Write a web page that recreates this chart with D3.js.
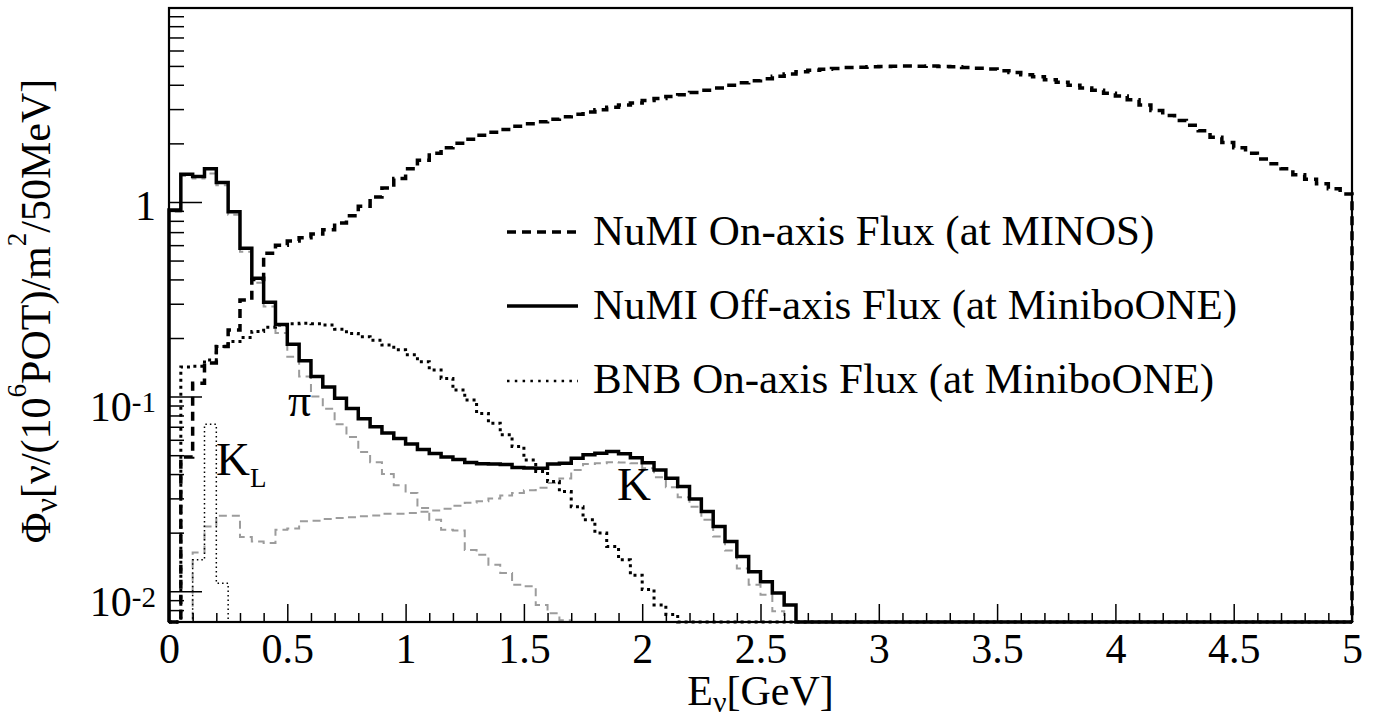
<!DOCTYPE html>
<html>
<head>
<meta charset="utf-8">
<script src="https://cdn.jsdelivr.net/npm/d3@7"></script>
<style>
  html, body { margin: 0; padding: 0; background: #fff; }
  svg { display: block; }
  text { font-family: "Liberation Serif", "Times New Roman", serif; fill: #000; }
</style>
</head>
<body>
<svg id="chart" width="1375" height="717"></svg>
<script>
// Neutrino flux histograms, 50 MeV bins from 0 to 5 GeV
const binWidth = 0.05;
const binEdges = d3.range(100).map(i => +(i * binWidth).toFixed(2));

// NuMI on-axis flux at MINOS
const numiOnAxis = [
  0, 0.049, 0.117, 0.149, 0.181, 0.22, 0.314, 0.40, 0.545, 0.60,
  0.63, 0.655, 0.685, 0.72, 0.78, 0.85, 0.95, 1.06, 1.18, 1.32,
  1.48, 1.64, 1.78, 1.9, 2.0, 2.1, 2.2, 2.28, 2.36, 2.45,
  2.52, 2.58, 2.66, 2.74, 2.82, 2.9, 2.98, 3.07, 3.15, 3.22,
  3.32, 3.4, 3.48, 3.55, 3.65, 3.75, 3.85, 3.98, 4.1, 4.2,
  4.3, 4.42, 4.55, 4.66, 4.75, 4.8, 4.85, 4.9, 4.92, 4.95,
  4.96, 4.98, 5.0, 4.98, 5.0, 4.97, 4.95, 4.9, 4.86, 4.82,
  4.72, 4.62, 4.5, 4.4, 4.25, 4.12, 3.98, 3.85, 3.75, 3.62,
  3.5, 3.35, 3.15, 2.95, 2.78, 2.62, 2.48, 2.32, 2.15, 2.02,
  1.9, 1.78, 1.66, 1.57, 1.48, 1.38, 1.31, 1.24, 1.17, 1.1
];

// NuMI off-axis flux at MiniBooNE (total)
const numiOffAxis = [
  0.91, 1.39, 1.35, 1.48, 1.26, 0.89, 0.578, 0.405, 0.305, 0.235,
  0.186, 0.153, 0.127, 0.112, 0.098, 0.087, 0.077, 0.07, 0.065, 0.061,
  0.057, 0.0535, 0.051, 0.049, 0.0475, 0.0458, 0.0452, 0.045, 0.0448, 0.0432,
  0.043, 0.0428, 0.045, 0.0455, 0.0482, 0.0502, 0.0512, 0.0522, 0.0508, 0.0485,
  0.0457, 0.042, 0.0381, 0.0345, 0.0298, 0.0257, 0.0215, 0.018, 0.0151, 0.0126,
  0.0112, 0.0098, 0.0085, 0, 0, 0, 0, 0, 0, 0,
  0, 0, 0, 0, 0, 0, 0, 0, 0, 0,
  0, 0, 0, 0, 0, 0, 0, 0, 0, 0,
  0, 0, 0, 0, 0, 0, 0, 0, 0, 0,
  0, 0, 0, 0, 0, 0, 0, 0, 0, 0
];

// Pion-parent component of the off-axis flux
const offAxisPion = [
  0.89, 1.36, 1.32, 1.40, 1.22, 0.86, 0.555, 0.385, 0.29, 0.212,
  0.16, 0.127, 0.10, 0.0865, 0.072, 0.062, 0.052, 0.046, 0.040, 0.035,
  0.032, 0.0268, 0.0233, 0.0207, 0.0205, 0.0163, 0.0154, 0.0137, 0.0124, 0.0108,
  0.0106, 0.0085, 0.0077, 0.0071, 0.006, 0.005, 0, 0, 0, 0,
  0, 0, 0, 0, 0, 0, 0, 0, 0, 0,
  0, 0, 0, 0, 0, 0, 0, 0, 0, 0,
  0, 0, 0, 0, 0, 0, 0, 0, 0, 0,
  0, 0, 0, 0, 0, 0, 0, 0, 0, 0,
  0, 0, 0, 0, 0, 0, 0, 0, 0, 0,
  0, 0, 0, 0, 0, 0, 0, 0, 0, 0
];

// Charged-kaon-parent component of the off-axis flux
const offAxisKaon = [
  0, 0, 0.0158, 0.0215, 0.0244, 0.0244, 0.019, 0.018, 0.0177, 0.0207,
  0.021, 0.0229, 0.023, 0.0235, 0.0238, 0.024, 0.0243, 0.0245, 0.025, 0.025,
  0.0252, 0.0256, 0.026, 0.0265, 0.0275, 0.0285, 0.029, 0.030, 0.031, 0.032,
  0.033, 0.034, 0.036, 0.038, 0.042, 0.045, 0.0455, 0.046, 0.0458, 0.0455,
  0.0429, 0.0385, 0.0342, 0.0304, 0.0272, 0.0233, 0.0191, 0.0162, 0.0131, 0.0108,
  0.0096, 0.0079, 0, 0, 0, 0, 0, 0, 0, 0,
  0, 0, 0, 0, 0, 0, 0, 0, 0, 0,
  0, 0, 0, 0, 0, 0, 0, 0, 0, 0,
  0, 0, 0, 0, 0, 0, 0, 0, 0, 0,
  0, 0, 0, 0, 0, 0, 0, 0, 0, 0
];

// K-long-parent component of the off-axis flux (only first bins are non-zero)
const offAxisKLong = [0, 0, 0.0145, 0.072, 0.011].concat(new Array(95).fill(0));

// BNB on-axis flux at MiniBooNE
const bnbOnAxis = [
  0, 0.142, 0.143, 0.154, 0.181, 0.192, 0.201, 0.216, 0.227, 0.233,
  0.237, 0.238, 0.237, 0.233, 0.222, 0.211, 0.203, 0.195, 0.184, 0.174,
  0.164, 0.151, 0.137, 0.124, 0.108, 0.096, 0.082, 0.073, 0.0636, 0.0554,
  0.0473, 0.0412, 0.0366, 0.0325, 0.0272, 0.0233, 0.0199, 0.017, 0.0145, 0.0121,
  0.0102, 0.0085, 0.0076, 0.005, 0, 0, 0, 0, 0, 0,
  0, 0, 0, 0, 0, 0, 0, 0, 0, 0,
  0, 0, 0, 0, 0, 0, 0, 0, 0, 0,
  0, 0, 0, 0, 0, 0, 0, 0, 0, 0,
  0, 0, 0, 0, 0, 0, 0, 0, 0, 0,
  0, 0, 0, 0, 0, 0, 0, 0, 0, 0
];

const xMajorTicks = [0, 0.5, 1, 1.5, 2, 2.5, 3, 3.5, 4, 4.5, 5];
const xTickLabels = ["0", "0.5", "1", "1.5", "2", "2.5", "3", "3.5", "4", "4.5", "5"];
const yMajorTicks = [0.01, 0.1, 1];
const yTickBase = ["10", "10", "1"];
const yTickExp = ["-2", "-1", ""];
const legendLabels = [
  "NuMI On-axis Flux (at MINOS)",
  "NuMI Off-axis Flux (at MiniboONE)",
  "BNB On-axis Flux (at MiniboONE)"
];

const svg = d3.select("#chart");
const frameL = 169, frameR = 1352, frameT = 8, frameB = 622;
const yMin = 0.00695, yMax = 9.92;

const x = d3.scaleLinear().domain([0, 5]).range([frameL, frameR]);
const y = d3.scaleLog().domain([yMin, yMax]).range([frameB, frameT]).clamp(true);

svg.append("defs").append("clipPath").attr("id", "plotClip")
  .append("rect").attr("x", frameL - 3).attr("y", frameT)
  .attr("width", frameR - frameL + 6).attr("height", frameB - frameT + 3);

// Histogram outline as a step path
function stepPoints(vals) {
  const pts = [[binEdges[0], yMin]];
  vals.forEach((v, i) => {
    const lo = binEdges[i], hi = +(lo + binWidth).toFixed(2);
    const vv = v > 0 ? v : yMin;
    pts.push([lo, vv], [hi, vv]);
  });
  pts.push([5, yMin]);
  return pts;
}
const line = d3.line().x(d => x(d[0])).y(d => y(d[1]));

const plot = svg.append("g").attr("clip-path", "url(#plotClip)");

const series = [
  { vals: offAxisKaon, color: "#9c9c9c", width: 2, dash: "8,5" },
  { vals: offAxisPion, color: "#9c9c9c", width: 2, dash: "8,5" },
  { vals: offAxisKLong, color: "#000", width: 1.5, dash: "1.5,3" },
  { vals: bnbOnAxis, color: "#000", width: 3, dash: "3,4" },
  { vals: numiOnAxis, color: "#000", width: 3.5, dash: "9,6" },
  { vals: numiOffAxis, color: "#000", width: 3.5, dash: null }
];
series.forEach(s => {
  plot.append("path")
    .attr("d", line(stepPoints(s.vals)))
    .attr("fill", "none")
    .attr("stroke", s.color)
    .attr("stroke-width", s.width)
    .attr("stroke-dasharray", s.dash)
    .attr("stroke-linejoin", "miter");
});

// X axis: minor ticks every 0.1 GeV, major every 0.5 GeV, pointing inward
const xMinor = d3.range(0, 51).map(i => +(i * 0.1).toFixed(1)).filter(v => !xMajorTicks.includes(v));
svg.append("g").attr("transform", `translate(0,${frameB})`)
  .call(d3.axisBottom(x).tickValues(xMinor).tickSizeInner(-9).tickSizeOuter(0).tickFormat(""))
  .call(g => g.select(".domain").remove())
  .call(g => g.selectAll("line").attr("stroke", "#000").attr("stroke-width", 1.5));
const xMaj = svg.append("g").attr("transform", `translate(0,${frameB})`)
  .call(d3.axisBottom(x).tickValues(xMajorTicks).tickSizeInner(-18).tickSizeOuter(0)
    .tickFormat((d, i) => xTickLabels[i]))
  .call(g => g.select(".domain").remove())
  .call(g => g.selectAll("line").attr("stroke", "#000").attr("stroke-width", 1.5));
xMaj.selectAll("text")
  .attr("y", 41).attr("dy", null)
  .attr("font-size", 42)
  .attr("font-family", "'Liberation Serif', serif")
  .attr("fill", "#000");

// Y axis: log decades with minor ticks 2..9
const yMinor = [];
[0.001, 0.01, 0.1, 1].forEach(dec => {
  for (let k = 2; k <= 9; k++) {
    const v = +(k * dec).toPrecision(3);
    if (v >= yMin && v <= yMax) yMinor.push(v);
  }
});
svg.append("g").attr("transform", `translate(${frameL},0)`)
  .call(d3.axisLeft(y).tickValues(yMinor).tickSizeInner(-15).tickSizeOuter(0).tickFormat(""))
  .call(g => g.select(".domain").remove())
  .call(g => g.selectAll("line").attr("stroke", "#000").attr("stroke-width", 1.5));
svg.append("g").attr("transform", `translate(${frameL},0)`)
  .call(d3.axisLeft(y).tickValues(yMajorTicks).tickSizeInner(-33).tickSizeOuter(0).tickFormat(""))
  .call(g => g.select(".domain").remove())
  .call(g => g.selectAll("line").attr("stroke", "#000").attr("stroke-width", 1.5));

yMajorTicks.forEach((v, i) => {
  const t = svg.append("text")
    .attr("x", 156)
    .attr("y", y(v) + (yTickExp[i] ? 24.5 : 18))
    .attr("text-anchor", "end")
    .attr("font-size", 42);
  t.append("tspan").text(yTickBase[i]);
  if (yTickExp[i]) {
    t.append("tspan").attr("font-size", 29).attr("dy", -9).text(yTickExp[i]);
  }
});

// Frame
svg.append("rect")
  .attr("x", frameL).attr("y", frameT).attr("width", frameR - frameL).attr("height", frameB - frameT)
  .attr("fill", "none").attr("stroke", "#000").attr("stroke-width", 2.2);

// Axis titles
const xt = svg.append("text").attr("x", (frameL + frameR) / 2).attr("y", 705)
  .attr("text-anchor", "middle").attr("font-size", 42);
xt.append("tspan").text("E");
xt.append("tspan").attr("font-size", 30).attr("dy", 7).text("ν");
xt.append("tspan").attr("dy", -7).text("[GeV]");

const yt = svg.append("text")
  .attr("transform", "translate(50,311) rotate(-90)")
  .attr("text-anchor", "middle").attr("font-size", 42);
yt.append("tspan").text("Φ");
yt.append("tspan").attr("font-size", 32).attr("dy", 7).text("ν");
yt.append("tspan").attr("dy", -7).text("[ν/(10");
yt.append("tspan").attr("font-size", 27).attr("dy", -24).text("6");
yt.append("tspan").attr("dy", 24).text("POT)/m");
yt.append("tspan").attr("font-size", 27).attr("dy", -24).text("2");
yt.append("tspan").attr("dy", 24).text("/50MeV]");

// Component labels
svg.append("text").attr("x", 288).attr("y", 416).attr("font-size", 46).text("π");
svg.append("text").attr("x", 617).attr("y", 500).attr("font-size", 47).text("K");
const kl = svg.append("text").attr("x", 216).attr("y", 475).attr("font-size", 47);
kl.append("tspan").text("K");
kl.append("tspan").attr("font-size", 27).attr("dy", 12).text("L");

// Legend
const legendRows = [
  { y: 232, base: 245, width: 3.5, dash: "9,6" },
  { y: 306, base: 318.5, width: 3.5, dash: null },
  { y: 381, base: 393, width: 2.5, dash: "2.5,5.3" }
];
legendRows.forEach((r, i) => {
  svg.append("line")
    .attr("x1", 507).attr("x2", 578).attr("y1", r.y).attr("y2", r.y)
    .attr("stroke", "#000").attr("stroke-width", r.width)
    .attr("stroke-dasharray", r.dash);
  svg.append("text").attr("x", 593).attr("y", r.base).attr("font-size", 43).text(legendLabels[i]);
});
</script>
</body>
</html>
